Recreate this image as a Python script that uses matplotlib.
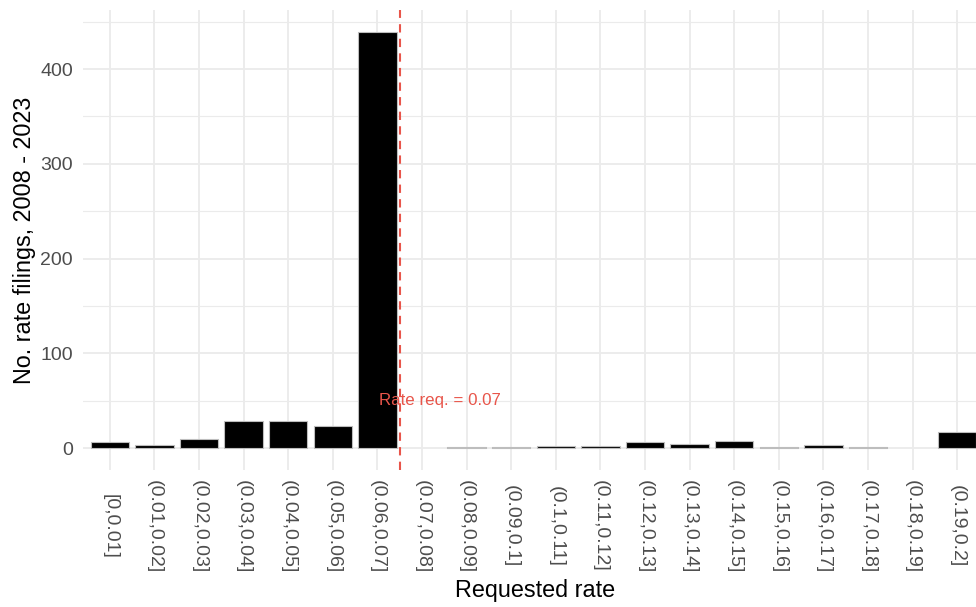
#!/usr/bin/env python
# -*- coding: utf-8 -*-

"""
Histogram of requested rate filings, ggplot-minimal look.
"""

import numpy as np
import matplotlib as mpl; mpl.use('agg')
import matplotlib.pyplot as plt
from matplotlib.ticker import MultipleLocator

# --- data
bins = [
    "[0,0.01]", "(0.01,0.02]", "(0.02,0.03]", "(0.03,0.04]", "(0.04,0.05]",
    "(0.05,0.06]", "(0.06,0.07]", "(0.07,0.08]", "(0.08,0.09]", "(0.09,0.1]",
    "(0.1,0.11]", "(0.11,0.12]", "(0.12,0.13]", "(0.13,0.14]", "(0.14,0.15]",
    "(0.15,0.16]", "(0.16,0.17]", "(0.17,0.18]", "(0.18,0.19]", "(0.19,0.2]",
]
n_filings = [7, 3, 10, 29, 29, 24, 439, 0, 1, 1,
             2, 2, 7, 4, 8, 1, 3, 1, 0, 17]
rate_req_pos = 7.5          # between (0.06,0.07] and (0.07,0.08]
rate_req_label = "Rate req. = 0.07"
label_y = 50

# --- style
plt.rcParams['font.family'] = ['Liberation Sans', 'DejaVu Sans']
GRID = '#EBEBEB'
TICK_C = '#4D4D4D'
RED = '#E8554A'

fig = plt.figure(figsize=[9.76, 6.07], dpi=100)
W, H = 976, 607
px_l, px_r, px_t, px_b = 83, 976, 10, 470
ax = fig.add_axes([px_l/W, 1 - px_b/H, (px_r - px_l)/W, (px_b - px_t)/H])

xs = np.arange(1, len(bins) + 1)
counts = np.asarray(n_filings)
has = counts > 0            # empty bins are not drawn
ax.bar(xs[has], counts[has], width=0.86, color='black',
       edgecolor='#BDBDBD', linewidth=0.8, zorder=3)

# reference line + label
ax.axvline(rate_req_pos, color=RED, linestyle=(0, (4, 3)),
           linewidth=1.5, zorder=4)
ax.text(rate_req_pos + 0.9, label_y, rate_req_label, color=RED,
        fontsize=12.2, ha='center', va='center', zorder=5)

# --- axes format
ax.set_xlim(0.4, 20.42)
ax.set_ylim(-22.9, 462.3)
ax.set_xticks(xs)
ax.set_xticklabels(bins, rotation=270, ha='center', va='center')
ax.yaxis.set_major_locator(MultipleLocator(100))
ax.yaxis.set_minor_locator(MultipleLocator(50))
ax.tick_params(axis='both', length=0, colors=TICK_C, labelsize=14)
ax.tick_params(axis='x', pad=40.5)
ax.tick_params(axis='y', pad=7.2)
ax.tick_params(axis='y', which='minor', length=0)

ax.grid(True, which='major', axis='both', color=GRID, linewidth=1.3, zorder=0)
ax.grid(True, which='minor', axis='y', color=GRID, linewidth=0.8, zorder=0)
ax.set_axisbelow(True)
for s in ax.spines.values():
    s.set_visible(False)

ax.set_xlabel("Requested rate", fontsize=16.8, color='black', va='center')
ax.xaxis.set_label_coords(0.506, -(590 - px_b)/(px_b - px_t))
ax.set_ylabel("No. rate filings, 2008 - 2023", fontsize=16.8,
              color='black', va='center')
ax.yaxis.set_label_coords(-(px_l - 24)/(px_r - px_l), 0.5)

fig.savefig("out.png", dpi=100)
